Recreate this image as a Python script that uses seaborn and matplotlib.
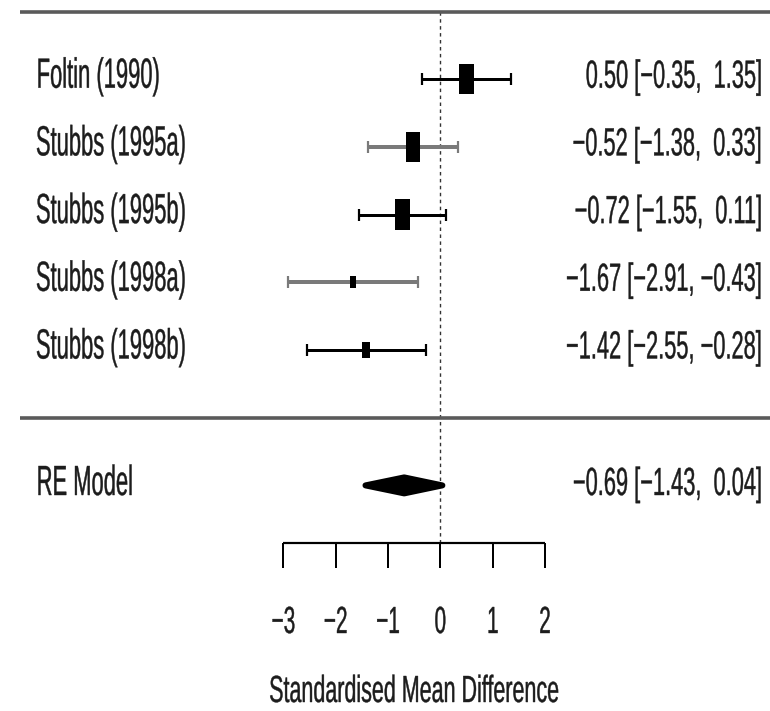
import numpy as np
import pandas as pd
import matplotlib
matplotlib.use("Agg")
import matplotlib.pyplot as plt
import seaborn as sns
from matplotlib import patheffects
from matplotlib.font_manager import FontProperties
from matplotlib.textpath import TextPath
from matplotlib.transforms import Affine2D

# ---- data -------------------------------------------------------------
studies = ["Foltin (1990)", "Stubbs (1995a)", "Stubbs (1995b)",
           "Stubbs (1998a)", "Stubbs (1998b)"]
smd = [0.50, -0.52, -0.72, -1.67, -1.42]
ci_lower = [-0.35, -1.38, -1.55, -2.91, -2.55]
ci_upper = [1.35, 0.33, 0.11, -0.43, -0.28]

pooled_label = "RE Model"
pooled_smd = -0.69
pooled_lower = -1.43
pooled_upper = 0.04

axis_ticks = [-3, -2, -1, 0, 1, 2]
axis_title = "Standardised Mean Difference"

# ---- layout -----------------------------------------------------------
sns.set_theme(style="white")

DPI = 100
W_PX, H_PX = 770, 711
PX_PER_UNIT = 52.33      # horizontal pixels per SMD unit
PX_PER_ROW = 67.7        # vertical pixels per forest row
X_ZERO_PX = 440.3        # pixel column of SMD = 0
ROW1_PX = 350.0          # pixel row of the bottom study


def x_of(px):
    return (px - X_ZERO_PX) / PX_PER_UNIT


def row_of(py):
    return 1 + (ROW1_PX - py) / PX_PER_ROW


def dy(px):
    return px / PX_PER_ROW


def lw_px(px):
    return px * 72 / DPI


# ---- condensed text rendering ------------------------------------------
class CondenseX(patheffects.AbstractPathEffect):
    """Draw the glyph outlines narrowed horizontally around the anchor,
    with a hairline outline in the text colour."""

    def __init__(self, factor, anchor, stroke=0.3):
        super().__init__()
        self.factor = factor
        self.anchor = anchor          # 0 left, 0.5 centre, 1 right
        self.stroke = stroke

    def draw_path(self, renderer, gc, tpath, affine, rgbFace=None):
        ext = tpath.get_extents(affine)
        x0 = ext.x0 + self.anchor * ext.width
        narrow = (Affine2D().translate(-x0, 0).scale(self.factor, 1)
                  .translate(x0, 0))
        gc0 = renderer.new_gc()
        gc0.copy_properties(gc)
        if rgbFace is not None:
            gc0.set_foreground(rgbFace)
        gc0.set_linewidth(self.stroke)
        gc0.set_joinstyle("round")
        renderer.draw_path(gc0, tpath, affine + narrow, rgbFace)
        gc0.restore()


BASE_FP = FontProperties(family=["Liberation Sans", "DejaVu Sans"])


def text_style(sample, cap_px, width_px=None, factor=None):
    """Font size from cap height; horizontal factor from the target width."""
    h100 = TextPath((0, 0), "H", size=100, prop=BASE_FP).get_extents().height
    size = cap_px * 72 / DPI * 100 / h100
    if factor is None:
        w100 = TextPath((0, 0), sample, size=100, prop=BASE_FP).get_extents().width
        natural_px = w100 / 100 * size * DPI / 72
        factor = width_px / natural_px
    fp = BASE_FP.copy()
    fp.set_size(size)
    return fp, factor


def fmt(v, width=0):
    return f"{v:>{width}.2f}".replace("-", "\u2212")


def annot(est, lo, hi):
    return f"{fmt(est)} [{fmt(lo, 5)}, {fmt(hi, 5)}]"


def put(x, y, s, style, ha):
    fp, factor = style
    anchor = {"left": 0.0, "center": 0.5, "right": 1.0}[ha]
    ax.text(x, y, s, fontproperties=fp, ha=ha, va="baseline",
            color="#1c1c1c",
            path_effects=[CondenseX(factor, anchor)])


# ---- table ------------------------------------------------------------
k = len(studies)
df = pd.DataFrame({"study": studies, "smd": smd,
                   "lower": ci_lower, "upper": ci_upper})
df["row"] = np.arange(k, 0, -1)
se = (df["upper"] - df["lower"]) / (2 * 1.96)
wi = 1 / se
df["psize"] = (wi - wi.min()) / (wi.max() - wi.min())
box_h_px = 12 + 19 * df["psize"]
df["msize"] = (box_h_px * 72 / DPI) ** 2

label_style = text_style("Foltin (1990)", 29, 120)
annot_style = text_style(annot(smd[0], ci_lower[0], ci_upper[0]), 27, 174)
title_style = text_style(axis_title, 26, 288)
tick_style = text_style("0", 26, factor=0.55)

# ---- figure -----------------------------------------------------------
fig = plt.figure(figsize=(W_PX / DPI, H_PX / DPI), dpi=DPI)
ax = fig.add_axes([0, 0, 1, 1])
ax.set_xlim(x_of(0), x_of(W_PX))
ax.set_ylim(row_of(H_PX), row_of(0))
ax.axis("off")

left_x = x_of(35)
right_x = x_of(763)
top_row = k + 1
axis_row = row_of(543.3)

# separators
ax.hlines([top_row, 0], x_of(20), x_of(W_PX), color="#5a5a5a",
          lw=lw_px(3.6), zorder=2)

# reference line at zero
ax.vlines(0, axis_row, top_row, color="#333333", lw=1.0,
          linestyles=(0, (2.5, 2.5)), zorder=1)

# confidence intervals
ci_colors = ["black", "#7a7a7a", "black", "#7a7a7a", "black"]
for (_, r), c in zip(df.iterrows(), ci_colors):
    ax.errorbar(r["smd"], r["row"],
                xerr=[[r["smd"] - r["lower"]], [r["upper"] - r["smd"]]],
                fmt="none", ecolor=c,
                elinewidth=lw_px(3.0 if c == "black" else 4.0),
                capsize=lw_px(6), capthick=lw_px(2.2), zorder=2)

# study boxes (taller than wide)
box = np.array([(-0.25, -0.5), (0.25, -0.5), (0.25, 0.5),
                (-0.25, 0.5), (-0.25, -0.5)])
sns.scatterplot(data=df, x="smd", y="row", marker=box, s=df["msize"],
                color="black", edgecolor="black", linewidth=0,
                legend=False, ax=ax, zorder=3)

# pooled estimate diamond
half_h = dy(8)
ax.fill([pooled_lower, pooled_smd, pooled_upper, pooled_smd],
        [-1, -1 + half_h, -1, -1 - half_h],
        facecolor="black", edgecolor="black", lw=lw_px(6.0),
        joinstyle="round", zorder=3)

# labels and annotations
base_off = dy(8.5)
for _, r in df.iterrows():
    put(left_x, r["row"] - base_off, r["study"], label_style, "left")
    put(right_x, r["row"] - base_off,
        annot(r["smd"], r["lower"], r["upper"]), annot_style, "right")
put(left_x, -1 - dy(9.6), pooled_label, label_style, "left")
put(right_x, -1 - dy(9.6), annot(pooled_smd, pooled_lower, pooled_upper),
    annot_style, "right")

# x axis
ax.hlines(axis_row, axis_ticks[0], axis_ticks[-1], color="black",
          lw=lw_px(2.2), zorder=2)
ax.vlines(axis_ticks, axis_row - dy(25), axis_row, color="black",
          lw=lw_px(2.0), zorder=2)
for t in axis_ticks:
    put(t, row_of(633), str(t).replace("-", "\u2212"), tick_style, "center")
put(x_of((270 + 558) / 2), row_of(702), axis_title, title_style, "center")

fig.savefig("out.png", dpi=DPI)
